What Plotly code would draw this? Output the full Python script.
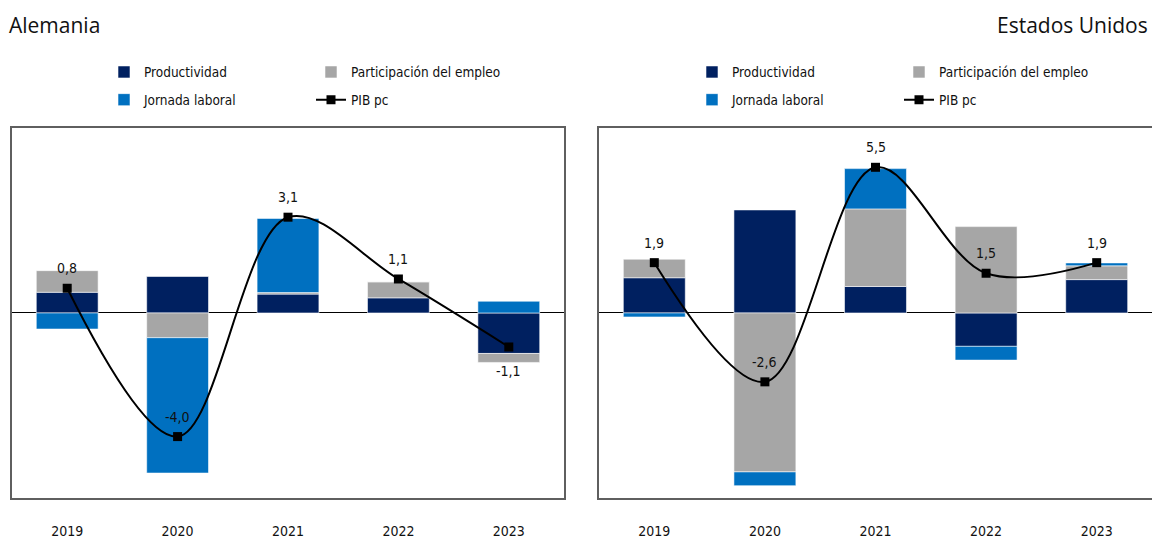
import plotly.graph_objects as go

# Contribuciones al crecimiento del PIB per cápita (pp)
years = ["2019", "2020", "2021", "2022", "2023"]

de_productividad = [0.67, 1.18, 0.61, 0.49, -1.31]
de_participacion = [0.70, -0.80, 0.05, 0.52, -0.29]
de_jornada = [-0.52, -4.38, 2.40, 0.0, 0.38]
de_pib = [0.8, -4.0, 3.1, 1.1, -1.1]

us_productividad = [1.33, 3.89, 1.00, -1.26, 1.26]
us_participacion = [0.70, -6.00, 2.93, 3.26, 0.52]
us_jornada = [-0.15, -0.52, 1.52, -0.52, 0.11]
us_pib = [1.9, -2.6, 5.5, 1.5, 1.9]

C_PROD = "#002060"
C_PART = "#a6a6a6"
C_JORN = "#0070c0"
NARROW = "DejaVu Sans Condensed, Liberation Sans Narrow, Arial Narrow, sans-serif"
TITLE_FONT = "Open Sans, Noto Sans, sans-serif"
FRAME = "#5f5f5f"

W, H = 1152, 539


def fmt(v):
    return f"{v:.1f}".replace(".", ",")


fig = go.Figure()
labels = []


def add_panel(xa, ya, prod, part, jorn, pib, leg_a, leg_b, label_side):
    for name, vals, col, leg in [
        ("Productividad", prod, C_PROD, leg_a),
        ("Participación del empleo", part, C_PART, leg_a),
        ("Jornada laboral", jorn, C_JORN, leg_b),
    ]:
        fig.add_trace(go.Bar(
            x=years, y=vals, name=name, xaxis=xa, yaxis=ya,
            marker=dict(color=col, line=dict(color="rgba(255,255,255,0.7)", width=0.8)),
            legend=leg, hoverinfo="skip",
        ))
    fig.add_trace(go.Scatter(
        x=years, y=pib, name="PIB pc", xaxis=xa, yaxis=ya,
        mode="lines+markers",
        line=dict(color="black", width=2, shape="spline", smoothing=1.0),
        marker=dict(symbol="square", size=9, color="black"),
        legend=leg_b, cliponaxis=False,
    ))
    # value labels, above the point or below it (category index on x)
    for i, (v, side) in enumerate(zip(pib, label_side)):
        labels.append(dict(
            x=i, y=v, xref=xa, yref=ya, text=fmt(v), showarrow=False,
            xanchor="center", yanchor="middle",
            yshift=20 if side == "up" else -24,
            font=dict(family=NARROW, size=14, color="#111111"),
        ))


add_panel("x", "y", de_productividad, de_participacion, de_jornada, de_pib,
          "legend", "legend2", ["up", "up", "up", "up", "down"])
add_panel("x2", "y2", us_productividad, us_participacion, us_jornada, us_pib,
          "legend3", "legend4", ["up"] * 5)

ydom = [1 - 504 / H, 1 - 129 / H]
axis_common = dict(showgrid=False, fixedrange=True)

x_common = dict(
    axis_common, type="category", range=[-0.5, 4.5],
    showline=True, linecolor=FRAME, linewidth=1.5,
    ticks="", ticklabelstandoff=19,
    tickfont=dict(family=NARROW, size=14, color="#111111"),
)
y_common = dict(
    axis_common, showticklabels=False, ticks="",
    showline=True, linecolor=FRAME, linewidth=1.5,
    zeroline=True, zerolinecolor="black", zerolinewidth=1.2,
)

leg_common = dict(
    orientation="h", xanchor="left", yanchor="middle",
    entrywidth=162, entrywidthmode="pixels",
    font=dict(family=NARROW, size=13.5, color="#111111"),
    bgcolor="rgba(0,0,0,0)", itemclick=False, itemdoubleclick=False,
    traceorder="normal",
)

titles = [
    dict(text="Alemania", x=7 / W, y=1 - 25 / H, xref="paper", yref="paper",
         xanchor="left", yanchor="middle", showarrow=False,
         font=dict(family=TITLE_FONT, size=21, color="#111111")),
    dict(text="Estados Unidos", x=1150 / W, y=1 - 25 / H, xref="paper", yref="paper",
         xanchor="right", yanchor="middle", showarrow=False,
         font=dict(family=TITLE_FONT, size=21, color="#111111")),
]

fig.update_layout(
    width=W, height=H,
    margin=dict(l=0, r=0, t=0, b=0),
    paper_bgcolor="white", plot_bgcolor="white",
    barmode="relative", bargap=0.44,
    showlegend=True,
    xaxis=dict(x_common, domain=[12 / W, 564 / W], anchor="y", mirror=True),
    yaxis=dict(y_common, domain=ydom, range=[-6, 6], anchor="x", mirror=True),
    xaxis2=dict(x_common, domain=[599 / W, 1.0], anchor="y2", mirror=True),
    yaxis2=dict(y_common, domain=ydom, range=[-7, 7], anchor="x2", mirror=False),
    legend=dict(leg_common, x=104 / W, y=1 - 73 / H),
    legend2=dict(leg_common, x=104 / W, y=1 - 101 / H),
    legend3=dict(leg_common, x=692 / W, y=1 - 73 / H),
    legend4=dict(leg_common, x=692 / W, y=1 - 101 / H),
    annotations=titles + labels,
)

fig.write_html("out.html")
